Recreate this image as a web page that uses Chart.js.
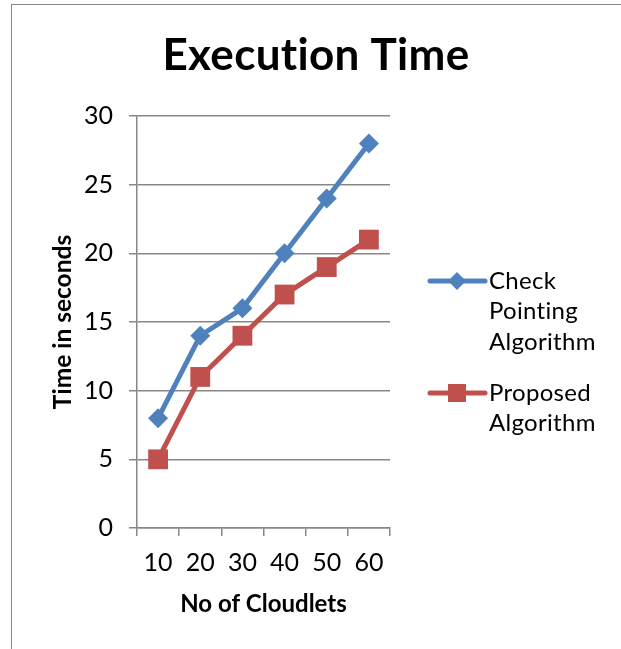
<!DOCTYPE html>
<html>
<head>
<meta charset="utf-8">
<script src="https://cdn.jsdelivr.net/npm/chart.js@4"></script>
<style>
  html, body { margin: 0; padding: 0; background: #fff; }
  #wrap { position: relative; width: 621px; height: 649px; overflow: hidden; }
  #frame { position: absolute; left: 11px; top: 4px; width: 620px; height: 700px; border: 1px solid #888; }
  canvas { position: absolute; left: 0; top: 0; }
</style>
</head>
<body>
<div id="wrap">
  <div id="frame"></div>
  <canvas id="timeChart" width="621" height="649"></canvas>
</div>
<script>
const cloudlets = ['10', '20', '30', '40', '50', '60'];
const checkPointing = [8, 14, 16, 20, 24, 28];
const proposed = [5, 11, 14, 17, 19, 21];
const seriesNames = [['Check', 'Pointing', 'Algorithm'], ['Proposed', 'Algorithm']];
const yTicks = [0, 5, 10, 15, 20, 25, 30];

const blue = '#4F81BD';
const red = '#C0504D';
const gridGray = '#878787';

// title + legend drawn by hand so they can sit where the original has them
const extras = {
  id: 'extras',
  afterDraw(chart) {
    const ctx = chart.ctx;
    ctx.save();
    // a tiny letter spacing stops Lato from using its "ti" ligature
    ctx.letterSpacing = '0.3px';
    ctx.fillStyle = '#000';
    ctx.font = 'bold 44px Lato';
    ctx.textAlign = 'center';
    ctx.textBaseline = 'middle';
    ctx.fillText('Execution Time', 316, 56);

    const rows = [281, 393];
    chart.data.datasets.forEach((ds, i) => {
      const y = rows[i];
      ctx.strokeStyle = ds.borderColor;
      ctx.lineWidth = 5;
      ctx.lineCap = 'round';
      ctx.beginPath();
      ctx.moveTo(430, y);
      ctx.lineTo(485, y);
      ctx.stroke();
      ctx.fillStyle = ds.backgroundColor;
      if (ds.pointStyle === 'rectRot') {
        ctx.beginPath();
        ctx.moveTo(457, y - 9);
        ctx.lineTo(466, y);
        ctx.lineTo(457, y + 9);
        ctx.lineTo(448, y);
        ctx.closePath();
        ctx.fill();
      } else {
        ctx.fillRect(448, y - 9, 18, 18);
      }
      ctx.fillStyle = '#000';
      ctx.font = '24px Lato';
      ctx.textAlign = 'left';
      seriesNames[i].forEach((line, k) => {
        ctx.fillText(line, 489, y + k * 30.5);
      });
    });
    ctx.restore();
  }
};

new Chart(document.getElementById('timeChart').getContext('2d'), {
  type: 'line',
  data: {
    labels: cloudlets,
    datasets: [{
      label: 'Check Pointing Algorithm',
      data: checkPointing,
      borderColor: blue,
      backgroundColor: blue,
      borderWidth: 5,
      pointStyle: 'rectRot',
      pointRadius: 10,
      pointBorderWidth: 0,
      tension: 0
    }, {
      label: 'Proposed Algorithm',
      data: proposed,
      borderColor: red,
      backgroundColor: red,
      borderWidth: 5,
      pointStyle: 'rect',
      pointRadius: 14,
      pointBorderWidth: 0,
      tension: 0
    }]
  },
  options: {
    responsive: false,
    animation: false,
    layout: { padding: { left: 0, top: 116, right: 231, bottom: 0 } },
    plugins: {
      legend: { display: false },
      title: { display: false },
      tooltip: { enabled: false }
    },
    scales: {
      x: {
        offset: true,
        afterFit: s => { s.height = 121; },
        grid: { offset: true, drawOnChartArea: false, tickLength: 8, color: gridGray, lineWidth: 1.5 },
        border: { color: gridGray, width: 1.5 },
        ticks: { color: '#000', font: { family: 'Lato', size: 25 }, padding: 12 },
        title: { display: true, text: 'No of Cloudlets', color: '#000', font: { family: 'Lato', size: 24, weight: 'bold' }, padding: { bottom: 30 } }
      },
      y: {
        min: 0,
        max: 30,
        afterFit: s => { s.width = 137; },
        afterBuildTicks: s => { s.ticks = yTicks.map(v => ({ value: v })); },
        grid: { tickLength: 8, color: gridGray, lineWidth: 1.5 },
        border: { color: gridGray, width: 1.5 },
        ticks: { color: '#000', font: { family: 'Lato', size: 25 }, padding: 16 },
        title: { display: true, text: 'Time in seconds', color: '#000', font: { family: 'Lato', size: 24.5, weight: 'bold' }, padding: { top: 48 } }
      }
    }
  },
  plugins: [extras]
});
</script>
</body>
</html>
